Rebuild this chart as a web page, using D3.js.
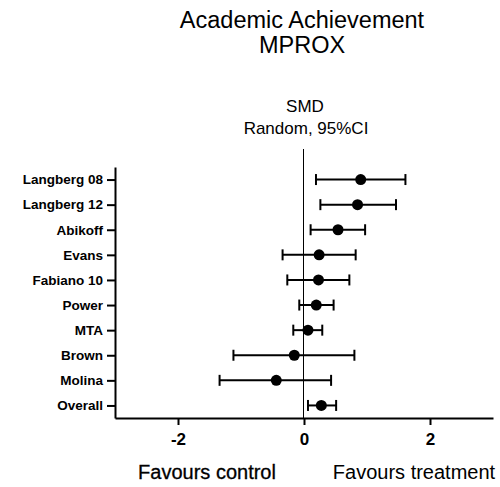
<!DOCTYPE html>
<html>
<head>
<meta charset="utf-8">
<script src="https://cdn.jsdelivr.net/npm/d3@7"></script>
<style>
body{margin:0;background:#fff;}
svg{font-family:"Liberation Sans",Arial,sans-serif;}
</style>
</head>
<body>
<svg id="chart" width="500" height="487"></svg>
<script>
// studies, top to bottom
var studies=["Langberg 08","Langberg 12","Abikoff","Evans","Fabiano 10","Power","MTA","Brown","Molina","Overall"];
var smd=[0.90,0.85,0.54,0.24,0.23,0.195,0.063,-0.154,-0.44,0.275];
var lower=[0.19,0.26,0.105,-0.34,-0.265,-0.075,-0.17,-1.12,-1.34,0.063];
var upper=[1.61,1.46,0.97,0.82,0.72,0.47,0.29,0.80,0.43,0.51];
var xTicks=[-2,0,2];

var svg=d3.select("#chart");
var LEFT=115,RIGHT=493,TOP=167,BOTTOM=418;

var x=d3.scaleLinear().domain([-3,3]).range([LEFT,RIGHT]);
var y=d3.scalePoint().domain(studies).range([TOP,BOTTOM]).padding(0.5);

var rows=studies.map(function(s,i){return {name:s,est:smd[i],lo:lower[i],hi:upper[i]};});

// titles
svg.append("text").attr("x",302).attr("y",28).attr("text-anchor","middle")
	.style("font-size","23.5px").text("Academic Achievement");
svg.append("text").attr("x",302).attr("y",53).attr("text-anchor","middle")
	.style("font-size","23.5px").text("MPROX");
svg.append("text").attr("x",305).attr("y",112).attr("text-anchor","middle")
	.style("font-size","17px").text("SMD");
svg.append("text").attr("x",306).attr("y",134).attr("text-anchor","middle")
	.style("font-size","17px").text("Random, 95%CI");

// zero line (half-pixel offset keeps it crisp)
svg.append("line")
	.attr("x1",Math.round(x(0))-0.5).attr("x2",Math.round(x(0))-0.5)
	.attr("y1",149).attr("y2",BOTTOM)
	.style("stroke","#000").style("stroke-width","1px");

// axes
var yAxis=svg.append("g").attr("transform","translate("+LEFT+",0)")
	.call(d3.axisLeft(y).tickSize(8).tickPadding(4).tickSizeOuter(0));
yAxis.selectAll("text").style("font-size","13.5px").style("font-weight","bold").style("fill","#000");
yAxis.selectAll("line,path").style("stroke","#000").style("stroke-width","2px");

var xAxis=svg.append("g").attr("transform","translate(0,"+BOTTOM+")")
	.call(d3.axisBottom(x).tickValues(xTicks).tickFormat(function(d){return String(d);})
		.tickSize(7).tickPadding(8).tickSizeOuter(0));
xAxis.selectAll("text").style("font-size","17px").style("font-weight","bold").style("fill","#000");
xAxis.selectAll("line,path").style("stroke","#000").style("stroke-width","2px");

// error bars
var g=svg.append("g");
g.selectAll(".ci").data(rows).enter().append("line")
	.attr("x1",function(d){return x(d.lo);}).attr("x2",function(d){return x(d.hi);})
	.attr("y1",function(d){return y(d.name);}).attr("y2",function(d){return y(d.name);})
	.style("stroke","#000").style("stroke-width","2px");
["lo","hi"].forEach(function(k){
	g.selectAll(".cap"+k).data(rows).enter().append("line")
		.attr("x1",function(d){return x(d[k]);}).attr("x2",function(d){return x(d[k]);})
		.attr("y1",function(d){return y(d.name)-5.5;}).attr("y2",function(d){return y(d.name)+5.5;})
		.style("stroke","#000").style("stroke-width","2px");
});
g.selectAll("circle").data(rows).enter().append("circle")
	.attr("cx",function(d){return x(d.est);}).attr("cy",function(d){return y(d.name);})
	.attr("r",5.5).style("fill","#000");

// favours labels
svg.append("text").attr("x",207).attr("y",479).attr("text-anchor","middle")
	.style("font-size","20px").style("stroke","#000").style("stroke-width","0.3px").text("Favours control");
svg.append("text").attr("x",414).attr("y",479).attr("text-anchor","middle")
	.style("font-size","20px").text("Favours treatment");
</script>
</body>
</html>
